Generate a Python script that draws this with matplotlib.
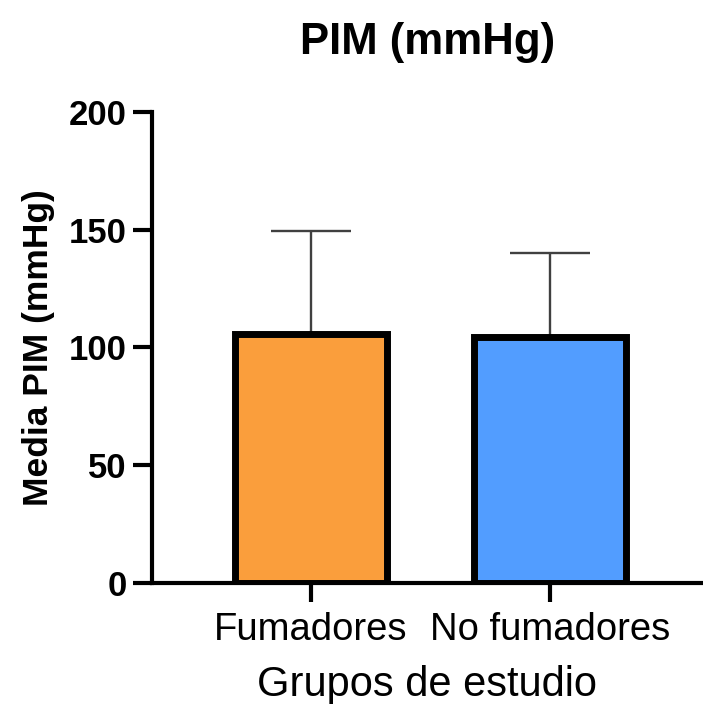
import matplotlib
matplotlib.use("Agg")
import matplotlib.pyplot as plt

# data
groups = ['Fumadores', 'No fumadores']
means = [105.5, 104.3]
upper_err = [44.0, 35.7]
colors = ['#FA9E3C', '#529DFF']

plt.rcParams['font.family'] = ['Liberation Sans', 'DejaVu Sans']

fig = plt.figure(figsize=(7.03, 7.04), dpi=100)
ax = fig.add_axes([0.2158, 0.172, 0.7842, 0.669])

x = list(range(len(groups)))
ax.errorbar(x, means, yerr=[[0] * len(means), upper_err], fmt='none',
            ecolor='#404040', elinewidth=1.7, capsize=29, capthick=1.7, zorder=1)
ax.bar(x, means, width=0.635, color=colors, edgecolor='black', linewidth=5, zorder=2)

ax.set_xlim(-0.667, 1.64)
ax.set_ylim(0, 200)
ax.set_yticks([0, 50, 100, 150, 200])
ax.set_xticks(x)
ax.set_xticklabels(groups, fontsize=27.5)
for lab in ax.get_yticklabels():
    lab.set_fontsize(25)
    lab.set_fontweight('bold')

for side in ['top', 'right']:
    ax.spines[side].set_visible(False)
for side in ['left', 'bottom']:
    ax.spines[side].set_linewidth(3)

ax.tick_params(axis='both', length=14, width=3, pad=4)
ax.tick_params(axis='x', pad=7)

ax.set_xlabel('Grupos de estudio', fontsize=30, labelpad=12)
ax.set_ylabel('Media PIM (mmHg)', fontsize=25.5, fontweight='bold', labelpad=10)
ax.set_title('PIM (mmHg)', fontsize=31.5, fontweight='bold', pad=42)

plt.savefig('out.png', dpi=100)
